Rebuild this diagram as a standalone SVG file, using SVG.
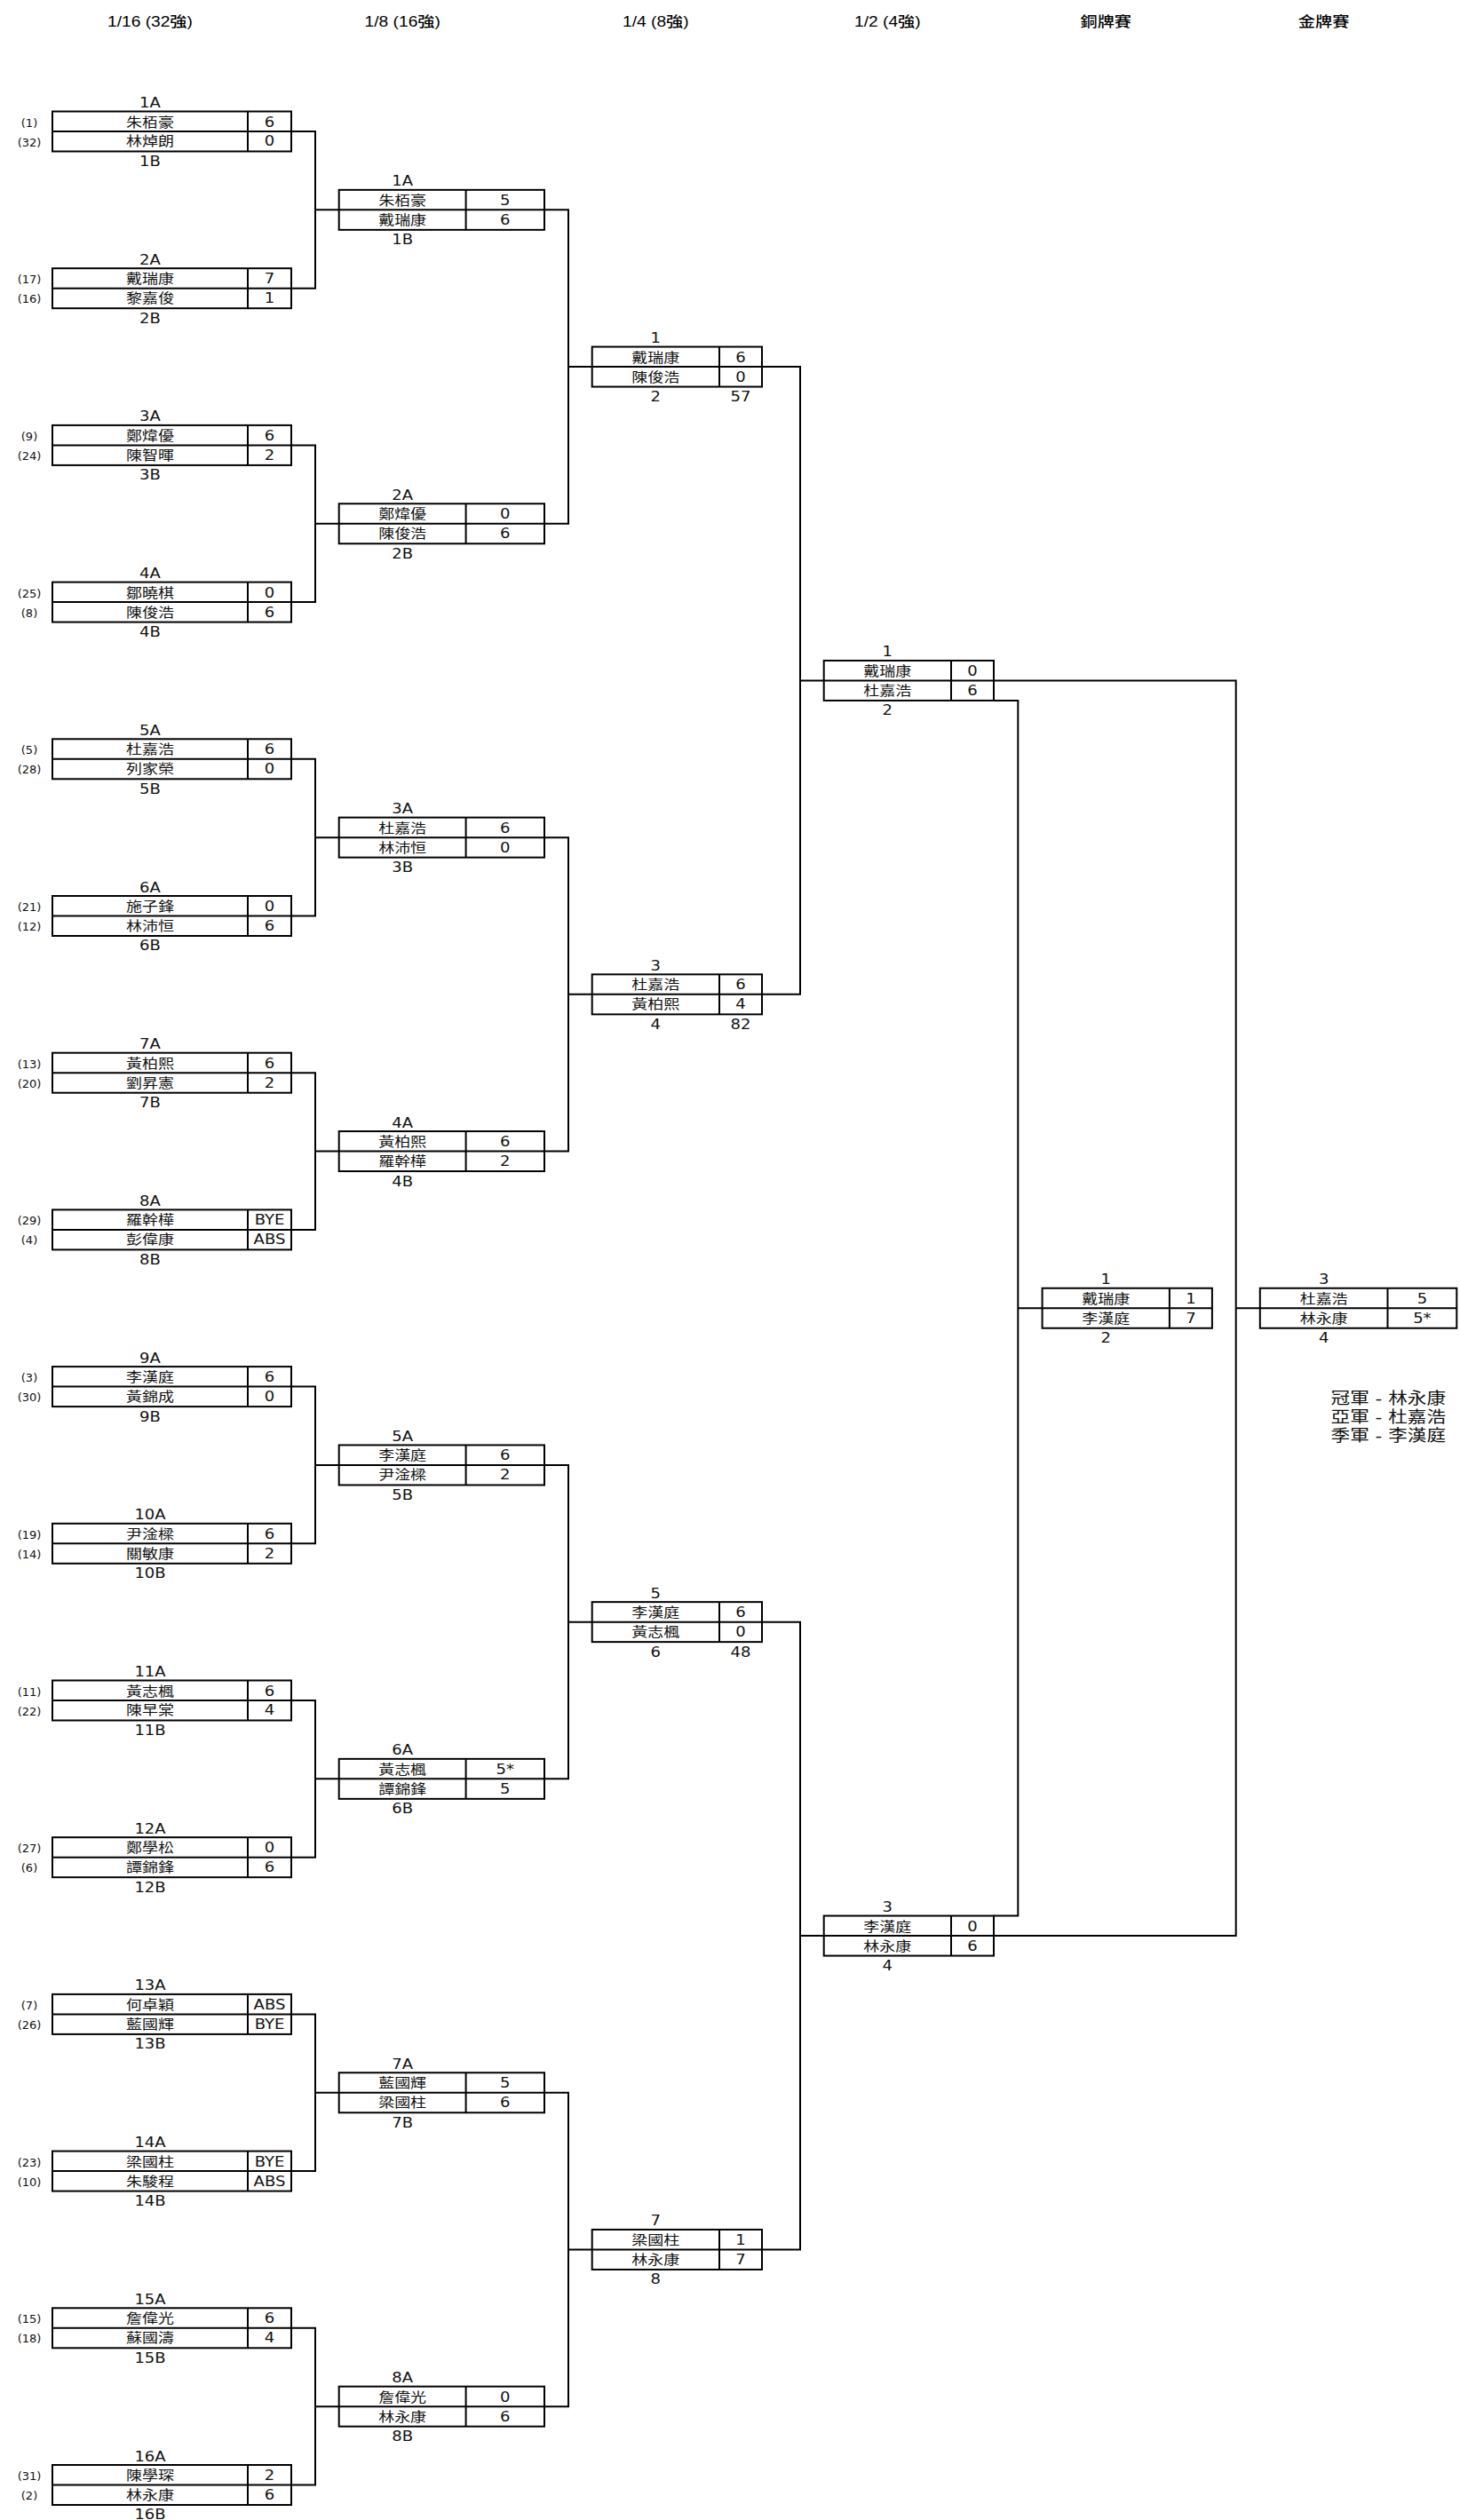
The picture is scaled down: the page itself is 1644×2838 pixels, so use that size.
<svg xmlns="http://www.w3.org/2000/svg" xmlns:xlink="http://www.w3.org/1999/xlink" width="1644" height="2838" viewBox="0 0 1644 2838">
<style>
text{font-family:"DejaVu Sans","Noto Sans CJK TC",sans-serif;font-size:15px;text-anchor:middle;fill:#111}
.sd{font-size:13px}
.hd text{font-family:"Liberation Sans","Noto Sans CJK TC",sans-serif;font-size:16px;font-weight:500;fill:#000}
.res text{font-size:18px;text-anchor:start}
.fr{fill:none;stroke:#000;stroke-width:2}
.cn{fill:none;stroke:#000;stroke-width:2}
</style>
<defs>
<g id="f1" class="fr"><rect x="0" y="-22.5" width="269" height="45"/><path d="M0,0H269M220,-22.5V22.5"/></g>
<g id="f2" class="fr"><rect x="0" y="-22.5" width="231.3" height="45"/><path d="M0,0H231.3M142.9,-22.5V22.5"/></g>
<g id="f3" class="fr"><rect x="0" y="-22.5" width="191.3" height="45"/><path d="M0,0H191.3M143.3,-22.5V22.5"/></g>
<g id="f4" class="fr"><rect x="0" y="-22.5" width="221.5" height="45"/><path d="M0,0H221.5M143.7,-22.5V22.5"/></g>
</defs>
<rect width="1644" height="2838" fill="#fff"/>

<g class="hd" transform="scale(1.2,1)">
<text x="140.8" y="30">1/16 (32強)</text>
<text x="377.7" y="30">1/8 (16強)</text>
<text x="615.3" y="30">1/4 (8強)</text>
<text x="832.8" y="30">1/2 (4強)</text>
<text x="1037.7" y="30">銅牌賽</text>
<text x="1242.2" y="30">金牌賽</text>
</g>

<g id="connectors" class="cn">
<path d="M328,148H355V324.7H328M355,236.35H381.7"/>
<path d="M328,501.4H355V678.1H328M355,589.75H381.7"/>
<path d="M328,854.8H355V1031.5H328M355,943.15H381.7"/>
<path d="M328,1208.2H355V1384.9H328M355,1296.55H381.7"/>
<path d="M328,1561.6H355V1738.3H328M355,1649.95H381.7"/>
<path d="M328,1915H355V2091.7H328M355,2003.35H381.7"/>
<path d="M328,2268.4H355V2445.1H328M355,2356.75H381.7"/>
<path d="M328,2621.8H355V2798.5H328M355,2710.15H381.7"/>
<path d="M613,236.35H640V589.75H613M640,413.05H666.7"/>
<path d="M613,943.15H640V1296.55H613M640,1119.85H666.7"/>
<path d="M613,1649.95H640V2003.35H613M640,1826.65H666.7"/>
<path d="M613,2356.75H640V2710.15H613M640,2533.45H666.7"/>
<path d="M858,413.05H901V1119.85H858M901,766.45H927.7"/>
<path d="M858,1826.65H901V2533.45H858M901,2180.05H927.7"/>
<path d="M1119,766.45H1391.7V2180.05H1119M1391.7,1473.25H1418.8"/>
<path d="M1119,788.95H1146.3V2157.55H1119M1146.3,1473.25H1173.6"/>
</g>

<g id="r32-1" transform="translate(59,148)"><use href="#f1"/><text class="sd" x="-26" y="-5.5">(1)</text><text class="sd" x="-26" y="16.5">(32)</text><g transform="scale(1.2,1)"><text x="91.67" y="-27">1A</text><text x="91.67" y="-5.5">朱栢豪</text><text x="203.75" y="-5.5">6</text><text x="91.67" y="16.5">林焯朗</text><text x="203.75" y="16.5">0</text><text x="91.67" y="39">1B</text></g></g>
<g id="r32-2" transform="translate(59,324.7)"><use href="#f1"/><text class="sd" x="-26" y="-5.5">(17)</text><text class="sd" x="-26" y="16.5">(16)</text><g transform="scale(1.2,1)"><text x="91.67" y="-27">2A</text><text x="91.67" y="-5.5">戴瑞康</text><text x="203.75" y="-5.5">7</text><text x="91.67" y="16.5">黎嘉俊</text><text x="203.75" y="16.5">1</text><text x="91.67" y="39">2B</text></g></g>
<g id="r32-3" transform="translate(59,501.4)"><use href="#f1"/><text class="sd" x="-26" y="-5.5">(9)</text><text class="sd" x="-26" y="16.5">(24)</text><g transform="scale(1.2,1)"><text x="91.67" y="-27">3A</text><text x="91.67" y="-5.5">鄭煒優</text><text x="203.75" y="-5.5">6</text><text x="91.67" y="16.5">陳智暉</text><text x="203.75" y="16.5">2</text><text x="91.67" y="39">3B</text></g></g>
<g id="r32-4" transform="translate(59,678.1)"><use href="#f1"/><text class="sd" x="-26" y="-5.5">(25)</text><text class="sd" x="-26" y="16.5">(8)</text><g transform="scale(1.2,1)"><text x="91.67" y="-27">4A</text><text x="91.67" y="-5.5">鄒曉棋</text><text x="203.75" y="-5.5">0</text><text x="91.67" y="16.5">陳俊浩</text><text x="203.75" y="16.5">6</text><text x="91.67" y="39">4B</text></g></g>
<g id="r32-5" transform="translate(59,854.8)"><use href="#f1"/><text class="sd" x="-26" y="-5.5">(5)</text><text class="sd" x="-26" y="16.5">(28)</text><g transform="scale(1.2,1)"><text x="91.67" y="-27">5A</text><text x="91.67" y="-5.5">杜嘉浩</text><text x="203.75" y="-5.5">6</text><text x="91.67" y="16.5">列家榮</text><text x="203.75" y="16.5">0</text><text x="91.67" y="39">5B</text></g></g>
<g id="r32-6" transform="translate(59,1031.5)"><use href="#f1"/><text class="sd" x="-26" y="-5.5">(21)</text><text class="sd" x="-26" y="16.5">(12)</text><g transform="scale(1.2,1)"><text x="91.67" y="-27">6A</text><text x="91.67" y="-5.5">施子鋒</text><text x="203.75" y="-5.5">0</text><text x="91.67" y="16.5">林沛恒</text><text x="203.75" y="16.5">6</text><text x="91.67" y="39">6B</text></g></g>
<g id="r32-7" transform="translate(59,1208.2)"><use href="#f1"/><text class="sd" x="-26" y="-5.5">(13)</text><text class="sd" x="-26" y="16.5">(20)</text><g transform="scale(1.2,1)"><text x="91.67" y="-27">7A</text><text x="91.67" y="-5.5">黃柏熙</text><text x="203.75" y="-5.5">6</text><text x="91.67" y="16.5">劉昇憲</text><text x="203.75" y="16.5">2</text><text x="91.67" y="39">7B</text></g></g>
<g id="r32-8" transform="translate(59,1384.9)"><use href="#f1"/><text class="sd" x="-26" y="-5.5">(29)</text><text class="sd" x="-26" y="16.5">(4)</text><g transform="scale(1.2,1)"><text x="91.67" y="-27">8A</text><text x="91.67" y="-5.5">羅幹樺</text><text x="203.75" y="-5.5">BYE</text><text x="91.67" y="16.5">彭偉康</text><text x="203.75" y="16.5">ABS</text><text x="91.67" y="39">8B</text></g></g>
<g id="r32-9" transform="translate(59,1561.6)"><use href="#f1"/><text class="sd" x="-26" y="-5.5">(3)</text><text class="sd" x="-26" y="16.5">(30)</text><g transform="scale(1.2,1)"><text x="91.67" y="-27">9A</text><text x="91.67" y="-5.5">李漢庭</text><text x="203.75" y="-5.5">6</text><text x="91.67" y="16.5">黃錦成</text><text x="203.75" y="16.5">0</text><text x="91.67" y="39">9B</text></g></g>
<g id="r32-10" transform="translate(59,1738.3)"><use href="#f1"/><text class="sd" x="-26" y="-5.5">(19)</text><text class="sd" x="-26" y="16.5">(14)</text><g transform="scale(1.2,1)"><text x="91.67" y="-27">10A</text><text x="91.67" y="-5.5">尹淦樑</text><text x="203.75" y="-5.5">6</text><text x="91.67" y="16.5">關敏康</text><text x="203.75" y="16.5">2</text><text x="91.67" y="39">10B</text></g></g>
<g id="r32-11" transform="translate(59,1915)"><use href="#f1"/><text class="sd" x="-26" y="-5.5">(11)</text><text class="sd" x="-26" y="16.5">(22)</text><g transform="scale(1.2,1)"><text x="91.67" y="-27">11A</text><text x="91.67" y="-5.5">黃志楓</text><text x="203.75" y="-5.5">6</text><text x="91.67" y="16.5">陳早棠</text><text x="203.75" y="16.5">4</text><text x="91.67" y="39">11B</text></g></g>
<g id="r32-12" transform="translate(59,2091.7)"><use href="#f1"/><text class="sd" x="-26" y="-5.5">(27)</text><text class="sd" x="-26" y="16.5">(6)</text><g transform="scale(1.2,1)"><text x="91.67" y="-27">12A</text><text x="91.67" y="-5.5">鄭學松</text><text x="203.75" y="-5.5">0</text><text x="91.67" y="16.5">譚錦鋒</text><text x="203.75" y="16.5">6</text><text x="91.67" y="39">12B</text></g></g>
<g id="r32-13" transform="translate(59,2268.4)"><use href="#f1"/><text class="sd" x="-26" y="-5.5">(7)</text><text class="sd" x="-26" y="16.5">(26)</text><g transform="scale(1.2,1)"><text x="91.67" y="-27">13A</text><text x="91.67" y="-5.5">何卓穎</text><text x="203.75" y="-5.5">ABS</text><text x="91.67" y="16.5">藍國輝</text><text x="203.75" y="16.5">BYE</text><text x="91.67" y="39">13B</text></g></g>
<g id="r32-14" transform="translate(59,2445.1)"><use href="#f1"/><text class="sd" x="-26" y="-5.5">(23)</text><text class="sd" x="-26" y="16.5">(10)</text><g transform="scale(1.2,1)"><text x="91.67" y="-27">14A</text><text x="91.67" y="-5.5">梁國柱</text><text x="203.75" y="-5.5">BYE</text><text x="91.67" y="16.5">朱駿程</text><text x="203.75" y="16.5">ABS</text><text x="91.67" y="39">14B</text></g></g>
<g id="r32-15" transform="translate(59,2621.8)"><use href="#f1"/><text class="sd" x="-26" y="-5.5">(15)</text><text class="sd" x="-26" y="16.5">(18)</text><g transform="scale(1.2,1)"><text x="91.67" y="-27">15A</text><text x="91.67" y="-5.5">詹偉光</text><text x="203.75" y="-5.5">6</text><text x="91.67" y="16.5">蘇國濤</text><text x="203.75" y="16.5">4</text><text x="91.67" y="39">15B</text></g></g>
<g id="r32-16" transform="translate(59,2798.5)"><use href="#f1"/><text class="sd" x="-26" y="-5.5">(31)</text><text class="sd" x="-26" y="16.5">(2)</text><g transform="scale(1.2,1)"><text x="91.67" y="-27">16A</text><text x="91.67" y="-5.5">陳學琛</text><text x="203.75" y="-5.5">2</text><text x="91.67" y="16.5">林永康</text><text x="203.75" y="16.5">6</text><text x="91.67" y="39">16B</text></g></g>

<g id="r16-1" transform="translate(381.7,236.35)"><use href="#f2"/><g transform="scale(1.2,1)"><text x="59.54" y="-27">1A</text><text x="59.54" y="-5.5">朱栢豪</text><text x="155.92" y="-5.5">5</text><text x="59.54" y="16.5">戴瑞康</text><text x="155.92" y="16.5">6</text><text x="59.54" y="39">1B</text></g></g>
<g id="r16-2" transform="translate(381.7,589.75)"><use href="#f2"/><g transform="scale(1.2,1)"><text x="59.54" y="-27">2A</text><text x="59.54" y="-5.5">鄭煒優</text><text x="155.92" y="-5.5">0</text><text x="59.54" y="16.5">陳俊浩</text><text x="155.92" y="16.5">6</text><text x="59.54" y="39">2B</text></g></g>
<g id="r16-3" transform="translate(381.7,943.15)"><use href="#f2"/><g transform="scale(1.2,1)"><text x="59.54" y="-27">3A</text><text x="59.54" y="-5.5">杜嘉浩</text><text x="155.92" y="-5.5">6</text><text x="59.54" y="16.5">林沛恒</text><text x="155.92" y="16.5">0</text><text x="59.54" y="39">3B</text></g></g>
<g id="r16-4" transform="translate(381.7,1296.55)"><use href="#f2"/><g transform="scale(1.2,1)"><text x="59.54" y="-27">4A</text><text x="59.54" y="-5.5">黃柏熙</text><text x="155.92" y="-5.5">6</text><text x="59.54" y="16.5">羅幹樺</text><text x="155.92" y="16.5">2</text><text x="59.54" y="39">4B</text></g></g>
<g id="r16-5" transform="translate(381.7,1649.95)"><use href="#f2"/><g transform="scale(1.2,1)"><text x="59.54" y="-27">5A</text><text x="59.54" y="-5.5">李漢庭</text><text x="155.92" y="-5.5">6</text><text x="59.54" y="16.5">尹淦樑</text><text x="155.92" y="16.5">2</text><text x="59.54" y="39">5B</text></g></g>
<g id="r16-6" transform="translate(381.7,2003.35)"><use href="#f2"/><g transform="scale(1.2,1)"><text x="59.54" y="-27">6A</text><text x="59.54" y="-5.5">黃志楓</text><text x="155.92" y="-5.5">5*</text><text x="59.54" y="16.5">譚錦鋒</text><text x="155.92" y="16.5">5</text><text x="59.54" y="39">6B</text></g></g>
<g id="r16-7" transform="translate(381.7,2356.75)"><use href="#f2"/><g transform="scale(1.2,1)"><text x="59.54" y="-27">7A</text><text x="59.54" y="-5.5">藍國輝</text><text x="155.92" y="-5.5">5</text><text x="59.54" y="16.5">梁國柱</text><text x="155.92" y="16.5">6</text><text x="59.54" y="39">7B</text></g></g>
<g id="r16-8" transform="translate(381.7,2710.15)"><use href="#f2"/><g transform="scale(1.2,1)"><text x="59.54" y="-27">8A</text><text x="59.54" y="-5.5">詹偉光</text><text x="155.92" y="-5.5">0</text><text x="59.54" y="16.5">林永康</text><text x="155.92" y="16.5">6</text><text x="59.54" y="39">8B</text></g></g>

<g id="qf-1" transform="translate(666.7,413.05)"><use href="#f3"/><g transform="scale(1.2,1)"><text x="59.71" y="-27">1</text><text x="59.71" y="-5.5">戴瑞康</text><text x="139.42" y="-5.5">6</text><text x="59.71" y="16.5">陳俊浩</text><text x="139.42" y="16.5">0</text><text x="59.71" y="39">2</text><text x="139.42" y="39">57</text></g></g>
<g id="qf-2" transform="translate(666.7,1119.85)"><use href="#f3"/><g transform="scale(1.2,1)"><text x="59.71" y="-27">3</text><text x="59.71" y="-5.5">杜嘉浩</text><text x="139.42" y="-5.5">6</text><text x="59.71" y="16.5">黃柏熙</text><text x="139.42" y="16.5">4</text><text x="59.71" y="39">4</text><text x="139.42" y="39">82</text></g></g>
<g id="qf-3" transform="translate(666.7,1826.65)"><use href="#f3"/><g transform="scale(1.2,1)"><text x="59.71" y="-27">5</text><text x="59.71" y="-5.5">李漢庭</text><text x="139.42" y="-5.5">6</text><text x="59.71" y="16.5">黃志楓</text><text x="139.42" y="16.5">0</text><text x="59.71" y="39">6</text><text x="139.42" y="39">48</text></g></g>
<g id="qf-4" transform="translate(666.7,2533.45)"><use href="#f3"/><g transform="scale(1.2,1)"><text x="59.71" y="-27">7</text><text x="59.71" y="-5.5">梁國柱</text><text x="139.42" y="-5.5">1</text><text x="59.71" y="16.5">林永康</text><text x="139.42" y="16.5">7</text><text x="59.71" y="39">8</text></g></g>

<g id="sf-1" transform="translate(927.7,766.45)"><use href="#f3"/><g transform="scale(1.2,1)"><text x="59.71" y="-27">1</text><text x="59.71" y="-5.5">戴瑞康</text><text x="139.42" y="-5.5">0</text><text x="59.71" y="16.5">杜嘉浩</text><text x="139.42" y="16.5">6</text><text x="59.71" y="39">2</text></g></g>
<g id="sf-2" transform="translate(927.7,2180.05)"><use href="#f3"/><g transform="scale(1.2,1)"><text x="59.71" y="-27">3</text><text x="59.71" y="-5.5">李漢庭</text><text x="139.42" y="-5.5">0</text><text x="59.71" y="16.5">林永康</text><text x="139.42" y="16.5">6</text><text x="59.71" y="39">4</text></g></g>

<g id="bronze" transform="translate(1173.6,1473.25)"><use href="#f3"/><g transform="scale(1.2,1)"><text x="59.71" y="-27">1</text><text x="59.71" y="-5.5">戴瑞康</text><text x="139.42" y="-5.5">1</text><text x="59.71" y="16.5">李漢庭</text><text x="139.42" y="16.5">7</text><text x="59.71" y="39">2</text></g></g>
<g id="gold" transform="translate(1418.8,1473.25)"><use href="#f4"/><g transform="scale(1.2,1)"><text x="59.88" y="-27">3</text><text x="59.88" y="-5.5">杜嘉浩</text><text x="152.17" y="-5.5">5</text><text x="59.88" y="16.5">林永康</text><text x="152.17" y="16.5">5*</text><text x="59.88" y="39">4</text></g></g>

<g id="results" class="res" transform="scale(1.2,1)">
<text x="1248.8" y="1581">冠軍 - 林永康</text>
<text x="1248.8" y="1602">亞軍 - 杜嘉浩</text>
<text x="1248.8" y="1623">季軍 - 李漢庭</text>
</g>
</svg>
